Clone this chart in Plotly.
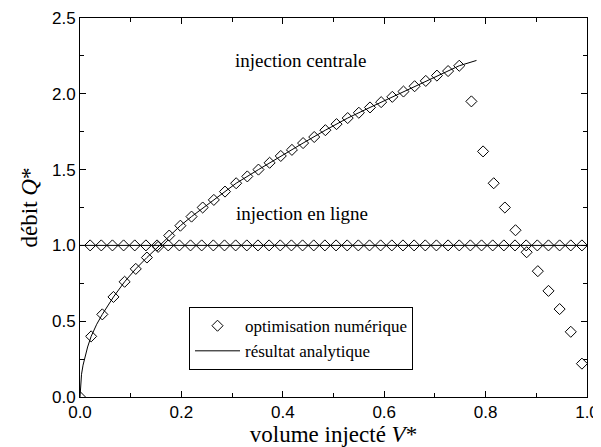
import plotly.graph_objects as go

# central injection: numerical optimisation points
v_central = [0.000, 0.022, 0.044, 0.066, 0.088, 0.110, 0.132, 0.154, 0.176, 0.198,
             0.220, 0.242, 0.264, 0.286, 0.308, 0.330, 0.352, 0.374, 0.396, 0.418,
             0.440, 0.462, 0.484, 0.506, 0.528, 0.550, 0.572, 0.594, 0.616, 0.638,
             0.660, 0.682, 0.704, 0.726, 0.748, 0.772, 0.795, 0.816, 0.838, 0.859,
             0.881, 0.903, 0.924, 0.946, 0.968, 0.990]
q_central = [0.000, 0.400, 0.545, 0.660, 0.760, 0.845, 0.920, 0.990, 1.065, 1.130,
             1.190, 1.250, 1.300, 1.355, 1.410, 1.455, 1.500, 1.545, 1.590, 1.630,
             1.675, 1.715, 1.760, 1.800, 1.840, 1.875, 1.910, 1.945, 1.980, 2.015,
             2.050, 2.085, 2.120, 2.150, 2.185, 1.950, 1.620, 1.410, 1.250, 1.100,
             0.955, 0.830, 0.700, 0.580, 0.430, 0.220]

# inline injection: numerical optimisation points
v_inline = [0.020, 0.042, 0.064, 0.086, 0.108, 0.130, 0.152, 0.174, 0.196, 0.218,
            0.240, 0.263, 0.285, 0.307, 0.329, 0.351, 0.373, 0.395, 0.417, 0.439,
            0.461, 0.483, 0.505, 0.527, 0.549, 0.571, 0.593, 0.615, 0.637, 0.659,
            0.681, 0.703, 0.726, 0.748, 0.770, 0.792, 0.814, 0.836, 0.858, 0.880,
            0.902, 0.924, 0.946, 0.968, 0.990]
q_inline = [1.0] * len(v_inline)

# analytic results
v_line_central = [0.0, 0.001, 0.003, 0.006, 0.010, 0.015, 0.022, 0.033, 0.044, 0.066,
                  0.088, 0.110, 0.132, 0.154, 0.176, 0.198, 0.220, 0.264, 0.308, 0.352,
                  0.396, 0.440, 0.484, 0.528, 0.572, 0.616, 0.660, 0.704, 0.748, 0.782]
q_line_central = [0.0, 0.085, 0.150, 0.210, 0.270, 0.330, 0.400, 0.480, 0.545, 0.660,
                  0.760, 0.845, 0.920, 0.990, 1.065, 1.130, 1.190, 1.300, 1.410, 1.500,
                  1.590, 1.675, 1.760, 1.840, 1.910, 1.980, 2.050, 2.120, 2.185, 2.220]
v_line_inline = [0.0, 1.0]
q_line_inline = [1.0, 1.0]

x_ticks = [0.0, 0.2, 0.4, 0.6, 0.8, 1.0]
y_ticks = [0.0, 0.5, 1.0, 1.5, 2.0, 2.5]

serif = "Liberation Serif, Times New Roman, serif"
sans = "Liberation Sans, Arial, sans-serif"

fig = go.Figure()
fig.add_trace(go.Scatter(x=v_line_central, y=q_line_central, mode="lines",
                         line=dict(color="black", width=1), name="résultat analytique",
                         showlegend=False))
fig.add_trace(go.Scatter(x=v_line_inline, y=q_line_inline, mode="lines",
                         line=dict(color="black", width=1), name="résultat analytique",
                         showlegend=False))
marker = dict(symbol="diamond-open", size=8.5, color="black", line=dict(width=1, color="black"))
fig.add_trace(go.Scatter(x=v_central, y=q_central, mode="markers", marker=marker,
                         name="optimisation numérique", showlegend=True))
fig.add_trace(go.Scatter(x=v_inline, y=q_inline, mode="markers", marker=marker,
                         name="optimisation numérique", showlegend=False))
fig.add_trace(go.Scatter(x=[None], y=[None], mode="lines",
                         line=dict(color="black", width=1), name="résultat analytique",
                         showlegend=True))

fig.add_annotation(x=0.435, y=2.22, text="injection centrale", showarrow=False,
                   font=dict(family=serif, size=19, color="black"))
fig.add_annotation(x=0.438, y=1.21, text="injection en ligne", showarrow=False,
                   font=dict(family=serif, size=19, color="black"))

axis_common = dict(showline=True, linecolor="black", linewidth=1, mirror="ticks",
                   ticks="inside", ticklen=6, tickcolor="black", showgrid=False,
                   zeroline=False, automargin=False,
                   tickfont=dict(family=sans, size=17, color="black"))

fig.update_xaxes(range=[0, 1], tickvals=x_ticks, ticktext=[f"{t:.1f}" for t in x_ticks],
                 minor=dict(ticks="inside", ticklen=4, tickcolor="black", dtick=0.1, tick0=0),
                 title=dict(text="volume injecté <i>V</i>*", font=dict(family=serif, size=23, color="black"),
                            standoff=0),
                 **axis_common)
fig.update_yaxes(range=[0, 2.5], tickvals=y_ticks, ticktext=[f"{t:.1f}" for t in y_ticks],
                 minor=dict(ticks="inside", ticklen=4, tickcolor="black", dtick=0.25, tick0=0),
                 title=dict(text="débit <i>Q</i>*", font=dict(family=serif, size=23, color="black"),
                            standoff=7),
                 **axis_common)

# the page body adds an 8px offset, so the figure is 8px smaller than the window
fig.update_layout(
    width=593, height=439,
    margin=dict(l=72, r=14, t=10, b=50),
    plot_bgcolor="white", paper_bgcolor="white",
    legend=dict(x=0.215, y=0.237, xanchor="left", yanchor="top",
                bordercolor="black", borderwidth=1, bgcolor="white",
                font=dict(family=serif, size=17, color="black"),
                tracegroupgap=0, itemwidth=45),
)

fig.write_html("out.html")
